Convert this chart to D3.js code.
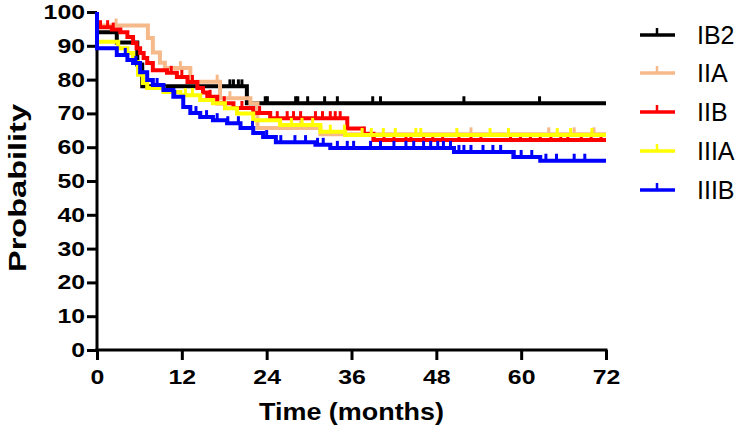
<!DOCTYPE html>
<html>
<head>
<meta charset="utf-8">
<script src="https://cdn.jsdelivr.net/npm/d3@7"></script>
<style>
  html, body { margin: 0; padding: 0; background: #fff; }
  svg { display: block; }
</style>
</head>
<body>
<svg id="chart" width="740" height="435"></svg>
<script>
// ---------- data ----------
const monthTicks = [0, 12, 24, 36, 48, 60, 72];
const probTicks = [0, 10, 20, 30, 40, 50, 60, 70, 80, 90, 100];
const groups = ["IB2", "IIA", "IIB", "IIIA", "IIIB"];
const groupColors = ["#000000", "#F6B98A", "#FF0000", "#FFFF00", "#0000FF"];

// step curves: [time (months), survival probability %]
const ib2Steps = [[0, 94], [2.8, 91], [5.7, 84.5], [6.4, 78], [21.2, 73]];
const iiaSteps = [[0, 96], [7.2, 92.3], [7.9, 88], [8.9, 85], [9.6, 83.4], [13.2, 79.4], [17.4, 74.5], [21.7, 73], [22.7, 65.7], [31.6, 63.8]];
const iibSteps = [[0, 95.5], [2.1, 94.8], [3.3, 94], [4.3, 92.6], [5.1, 90.8], [5.6, 89.3], [6.1, 87.9], [6.6, 86.4], [7.1, 84.9], [7.9, 82.8], [9.9, 82], [11.3, 80.8], [12.8, 79.3], [14.2, 77.5], [15.0, 76.2], [15.6, 74.9], [17.0, 73], [19.3, 71.6], [22.1, 70.1], [24.5, 68.6], [35.4, 65.5], [37.7, 64], [39.1, 62.1]];
const iiiaSteps = [[0, 91.2], [3.0, 89.3], [4.3, 87.9], [5.1, 85.2], [5.8, 81.4], [6.5, 79], [7.1, 77.5], [9.4, 76.3], [11.8, 75.4], [14.6, 74], [16.4, 73], [18.1, 71.5], [19.8, 70], [22.1, 68], [25.9, 66.6], [31.6, 64.6], [35.1, 63.6]];
const iiibSteps = [[0, 100], [0, 89.3], [2.8, 87.3], [4.3, 85.8], [5.1, 84.9], [6.1, 82.2], [7.1, 79.9], [7.9, 78.4], [9.4, 76.9], [10.8, 74.9], [12.2, 71.9], [13.2, 70.1], [14.6, 68.9], [16.4, 68], [18.4, 67.1], [20.3, 65.7], [22.1, 64.2], [23.5, 63], [25.3, 61.5], [30.9, 60.7], [33.0, 59.8], [50.5, 58.6], [58.9, 57.1], [62.7, 56]];

// censored observations (months)
const ib2Censor = [18.8, 19.3, 20.0, 20.5, 23.8, 24.1, 28.1, 28.4, 29.8, 32.2, 34.0, 39.0, 40.1, 51.9, 62.6];
const iiaCensor = [2.7, 11.8, 17.0, 18.8, 28.8, 31.6, 52.9, 63.9, 67.5, 70.3];
const iibCensor = [0.5, 1.5, 2.3, 10.5, 12, 13.5, 16, 18, 20.5, 23, 25.5, 26.9, 27.8, 28.8, 30.9, 31.9, 33.0, 33.7, 34.4, 37.8, 39.2, 40.6, 42.0, 43.7, 44.4, 46.2, 47.5, 48.9, 51.2, 52.9, 54.3, 58.5, 59.9, 61.3, 62.7, 64.2, 65.6, 66.6, 68.5, 69.9, 71.3];
const iiiaCensor = [12.5, 13.5, 27.5, 29, 30.5, 33, 35, 37.5, 38.8, 40.5, 42.2, 45.1, 45.8, 50.9, 55.6, 58.2, 65.1, 67, 70];
const iiibCensor = [4, 5.5, 8.5, 11, 14, 15.5, 17, 18.5, 20, 22, 24, 26, 28, 29.5, 31.2, 32, 34, 35.4, 36.3, 38.7, 40.1, 42, 43.7, 44.8, 46.2, 47.2, 48.2, 49, 50, 51.2, 51.9, 52.9, 54.6, 56, 57.1, 59, 60, 61.5, 63.5, 65, 67.5, 69];

const stepsList = [ib2Steps, iiaSteps, iibSteps, iiiaSteps, iiibSteps];
const censorList = [ib2Censor, iiaCensor, iibCensor, iiiaCensor, iiibCensor];
const maxTime = 72;

// ---------- drawing ----------
const svg = d3.select("#chart");
const FONT = "'Liberation Sans', Arial, sans-serif";

const x = d3.scaleLinear().domain([0, 72]).range([97, 606]);
const y = d3.scaleLinear().domain([0, 100]).range([350, 12]);

// axes
const yAxis = svg.append("g").attr("transform", `translate(${x(0)},0)`)
  .call(d3.axisLeft(y).tickValues(probTicks).tickSize(10).tickPadding(2).tickSizeOuter(0));
const xAxis = svg.append("g").attr("transform", `translate(0,${y(0)})`)
  .call(d3.axisBottom(x).tickValues(monthTicks).tickSize(10).tickPadding(10).tickSizeOuter(0));

[yAxis, xAxis].forEach(g => {
  g.select(".domain").attr("stroke", "#000").attr("stroke-width", 3);
  g.selectAll(".tick line").attr("stroke", "#000").attr("stroke-width", 3);
  g.selectAll(".tick text").attr("fill", "#000")
    .style("font-family", FONT).style("font-weight", "bold").style("font-size", "20px")
    .attr("textLength", function () { return this.textContent.length * 13.8; })
    .attr("lengthAdjust", "spacingAndGlyphs");
});
yAxis.select(".domain").attr("d", `M0,${y(100)}V${y(0) + 1.5}`);
xAxis.select(".domain").attr("d", `M${x(0) - 1.5},0H${x(72) + 1.5}`);

// axis titles
svg.append("text")
  .attr("transform", `translate(26,${(y(0) + y(100)) / 2 + 7}) rotate(-90)`)
  .attr("text-anchor", "middle")
  .attr("textLength", 168).attr("lengthAdjust", "spacingAndGlyphs")
  .style("font-family", FONT).style("font-weight", "bold").style("font-size", "24px")
  .text("Probability");
svg.append("text")
  .attr("x", (x(0) + x(72)) / 2).attr("y", 420)
  .attr("text-anchor", "middle")
  .attr("textLength", 185).attr("lengthAdjust", "spacingAndGlyphs")
  .style("font-family", FONT).style("font-weight", "bold").style("font-size", "24px")
  .text("Time (months)");

// curves
const line = d3.line().x(d => x(d[0])).y(d => y(d[1])).curve(d3.curveStepAfter);
function valueAt(steps, t) {
  let v = steps[0][1];
  for (const s of steps) { if (s[0] <= t) v = s[1]; }
  return v;
}
stepsList.forEach((steps, i) => {
  const pts = steps.concat([[maxTime, steps[steps.length - 1][1]]]);
  const g = svg.append("g");
  g.append("path").attr("d", line(pts))
    .attr("fill", "none").attr("stroke", groupColors[i]).attr("stroke-width", 4);
  g.selectAll("line").data(censorList[i]).enter().append("line")
    .attr("x1", d => x(d)).attr("x2", d => x(d))
    .attr("y1", d => y(valueAt(steps, d)))
    .attr("y2", d => y(valueAt(steps, d)) - 7)
    .attr("stroke", groupColors[i]).attr("stroke-width", 3);
});

// legend
const legendY = [35, 73, 112, 151, 190];
groups.forEach((name, i) => {
  const g = svg.append("g").attr("transform", `translate(0,${legendY[i]})`);
  g.append("line").attr("x1", 640).attr("x2", 675).attr("y1", 0).attr("y2", 0)
    .attr("stroke", groupColors[i]).attr("stroke-width", 3.5);
  g.append("line").attr("x1", 657).attr("x2", 657).attr("y1", 0).attr("y2", -7)
    .attr("stroke", groupColors[i]).attr("stroke-width", 2.5);
  g.append("text").attr("x", 697).attr("y", 0).attr("dy", "0.36em")
    .style("font-family", FONT).style("font-size", "25px").attr("fill", "#000")
    .text(name);
});
</script>
</body>
</html>
